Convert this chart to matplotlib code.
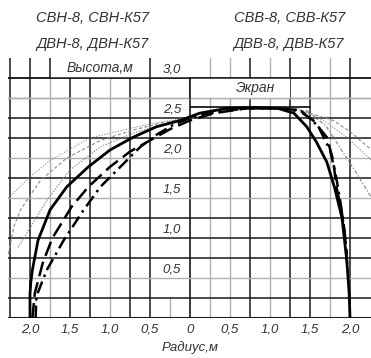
import numpy as np
import matplotlib
matplotlib.use("Agg")
import matplotlib.pyplot as plt
from matplotlib.patches import Rectangle

plt.rcParams['font.family'] = ['Liberation Sans', 'DejaVu Sans']

# ---------------- data ----------------
# main thick solid profile (radius m, height m); left side negative radius
solid_r = [-2.0, -2.0, -1.99, -1.97, -1.9, -1.75, -1.54, -1.27, -1.0, -0.71, -0.42, -0.12,
           0.12, 0.46, 0.8, 1.1, 1.3, 1.46, 1.58, 1.71, 1.81, 1.9, 1.96, 1.99, 2.0]
solid_h = [0.0, 0.3, 0.45, 0.6, 0.97, 1.35, 1.64, 1.89, 2.1, 2.26, 2.39, 2.47,
           2.56, 2.62, 2.63, 2.62, 2.56, 2.39, 2.2, 1.95, 1.62, 1.25, 0.72, 0.3, 0.0]

# thick dashed profile
dashA_r = [-1.97, -1.94, -1.84, -1.72, -1.48, -1.27, -1.0, -0.75, -0.5, -0.25, 0.0, 0.3, 0.7,
           1.1, 1.35, 1.54, 1.71, 1.79, 1.83, 1.9, 1.94, 1.97]
dashA_h = [0.0, 0.31, 0.69, 1.0, 1.39, 1.64, 1.89, 2.08, 2.22, 2.36, 2.47, 2.56, 2.62,
           2.62, 2.6, 2.47, 2.26, 1.97, 1.64, 1.31, 1.0, 0.6]

# thick dash-dot profile
dashB_r = [-1.93, -1.92, -1.79, -1.58, -1.33, -1.12, -0.87, -0.62, -0.42, -0.2, 0.0, 0.3, 0.7,
           1.1, 1.4, 1.6, 1.75, 1.82, 1.88, 1.93, 1.96]
dashB_h = [0.0, 0.27, 0.6, 0.97, 1.35, 1.64, 1.89, 2.14, 2.29, 2.42, 2.5, 2.57, 2.62,
           2.62, 2.58, 2.4, 2.1, 1.8, 1.45, 1.1, 0.8]

# thin grey profiles, left
thinL1_r = [-2.27, -2.0, -1.75, -1.25, -0.75, -0.37, 0.0]
thinL1_h = [1.5, 1.76, 1.97, 2.25, 2.37, 2.45, 2.5]
thinL2_r = [-2.27, -2.2, -2.12, -1.87, -1.54, -1.12, -0.71, -0.35, 0.0]
thinL2_h = [0.8, 1.15, 1.35, 1.72, 2.0, 2.22, 2.35, 2.44, 2.5]
thinL3_r = [-2.15, -2.04, -1.79, -1.5, -1.12, -0.71, -0.35, 0.0]
thinL3_h = [0.88, 1.06, 1.47, 1.85, 2.14, 2.31, 2.42, 2.5]

# thin grey profiles, right
thinR1_r = [1.3, 1.79, 2.0, 2.27]
thinR1_h = [2.62, 2.47, 2.33, 2.1]
thinR2_r = [1.35, 1.67, 1.96, 2.27]
thinR2_h = [2.62, 2.47, 2.26, 1.97]
thinR3_r = [1.45, 1.7, 1.92, 2.1, 2.27]
thinR3_h = [2.6, 2.4, 2.06, 1.78, 1.5]

# screen
screen_r = [0.0, 1.5]
screen_h = [2.64, 2.64]

# axis ticks / labels
x_ticks = [-2.0, -1.5, -1.0, -0.5, 0.0, 0.5, 1.0, 1.5, 2.0]
x_labels = ["2,0", "1,5", "1,0", "0,5", "0", "0,5", "1,0", "1,5", "2,0"]
y_ticks = [0.5, 1.0, 1.5, 2.0, 2.5, 3.0]
y_labels = ["0,5", "1,0", "1,5", "2,0", "2,5", "3,0"]

grid_x_dark = [-2.25, -2.0, -1.5, -1.25, -0.75, -0.5, 0.75, 1.25, 1.5, 2.0]
grid_x_light = [-1.75, -1.0, 0.25, 0.5, 1.0, 1.75]
grid_y_dark = [0.25, 0.75, 1.0, 1.25, 1.75, 2.25, 2.5, 3.0]
grid_y_light = [0.5, 1.5, 2.0, 2.75]

# ---------------- figure ----------------
W, H = 371, 358
fig = plt.figure(figsize=(W / 100, H / 100), dpi=100)
ax = fig.add_axes([8 / W, (H - 318) / H, (371 - 8) / W, (318 - 58) / H])
ax.set_xlim(-2.275, 2.2625)
ax.set_ylim(0, 3.25)
for s in ax.spines.values():
    s.set_visible(False)

dark = '#1a1a1a'
light = '#b0b0b0'
for x in grid_x_dark:
    ax.axvline(x, color=dark, lw=1.1, zorder=1)
for x in grid_x_light:
    ax.axvline(x, color=light, lw=1.0, zorder=1)
# r = 0 line ends at 3.0; r = -0.25 line only in lowest row
ax.plot([0, 0], [0, 3.0], color=dark, lw=1.2, zorder=1)
ax.plot([-0.25, -0.25], [0, 0.25], color=light, lw=1.0, zorder=1)
for y in grid_y_dark:
    ax.axhline(y, color=dark, lw=1.1, zorder=1)
for y in grid_y_light:
    ax.axhline(y, color=light, lw=1.0, zorder=1)
ax.axhline(0, color=dark, lw=2.2, zorder=1)

# label boxes
ax.add_patch(Rectangle((-1.75, 3.0), 1.25, 0.3, facecolor='white', edgecolor='none', zorder=2))
ax.add_patch(Rectangle((-0.5, 3.0), 0.5, 0.3, facecolor='white', edgecolor='none', zorder=2))
ax.plot([-1.75, -1.75], [3.0, 3.25], color=dark, lw=1.1, zorder=3)
ax.plot([-0.5, -0.5], [3.0, 3.25], color=dark, lw=1.1, zorder=3)
ax.add_patch(Rectangle((0.0, 2.75), 1.25, 0.25, facecolor='white', edgecolor='none', zorder=2))
ax.plot([0, 0], [2.75, 3.0], color=dark, lw=1.2, zorder=3)
ax.axhline(2.75, xmin=0, xmax=1, color=light, lw=1.0, zorder=2.5)
ax.axhline(3.0, color=dark, lw=1.1, zorder=2.5)

ax.text(-1.12, 3.13, "Высота,м", ha='center', va='center', fontsize=10,
        style='italic', color='#333333', zorder=4)
ax.text(0.82, 2.88, "Экран", ha='center', va='center', fontsize=10,
        style='italic', color='#333333', zorder=4)

# screen
ax.plot(screen_r, screen_h, color=dark, lw=1.3, zorder=3)

# thin profiles
tc = '#8a8a8a'
ax.plot(thinL1_r, thinL1_h, color=tc, lw=0.8, ls=(0, (1, 1.5)), zorder=4)
ax.plot(thinL2_r, thinL2_h, color=tc, lw=0.8, ls=(0, (3, 2)), zorder=4)
ax.plot(thinL3_r, thinL3_h, color=tc, lw=0.9, ls=(0, (1, 1.2)), zorder=4)
ax.plot(thinR1_r, thinR1_h, color=tc, lw=0.8, ls=(0, (3, 2)), zorder=4)
ax.plot(thinR2_r, thinR2_h, color=tc, lw=0.8, ls=(0, (1, 1.5)), zorder=4)
ax.plot(thinR3_r, thinR3_h, color=tc, lw=0.9, ls=(0, (3, 1.5, 1, 1.5)), zorder=4)

# thick profiles
ax.plot(dashB_r, dashB_h, color='black', lw=1.8, ls=(0, (5, 2, 1, 2)), zorder=5)
ax.plot(dashA_r, dashA_h, color='black', lw=1.8, ls=(0, (6, 2.5)), zorder=5)
ax.plot(solid_r, solid_h, color='black', lw=2.0, zorder=6)

# y labels inside the plot, above their grid lines
for y, lab in zip(y_ticks, y_labels):
    ax.text(-0.225, y + 0.03, lab, ha='center', va='bottom', fontsize=9.5,
            style='italic', color='#333333', zorder=4)

ax.set_xticks(x_ticks)
ax.set_xticklabels(x_labels, fontsize=9.5, style='italic', color='#333333')
ax.tick_params(axis='x', length=0, pad=4)
ax.set_yticks([])

fig.text(190 / W, 1 - 348 / H, "Радиус,м", ha='center', va='center', fontsize=9.5,
         style='italic', color='#333333')

fig.text(93 / W, 1 - 18 / H, "СВН-8, СВН-К57", ha='center', va='center', fontsize=10.5,
         style='italic', color='#333333')
fig.text(92 / W, 1 - 44 / H, "ДВН-8, ДВН-К57", ha='center', va='center', fontsize=10.5,
         style='italic', color='#333333')
fig.text(290 / W, 1 - 18 / H, "СВВ-8, СВВ-К57", ha='center', va='center', fontsize=10.5,
         style='italic', color='#333333')
fig.text(289 / W, 1 - 44 / H, "ДВВ-8, ДВВ-К57", ha='center', va='center', fontsize=10.5,
         style='italic', color='#333333')

fig.savefig("out.png", dpi=100)
